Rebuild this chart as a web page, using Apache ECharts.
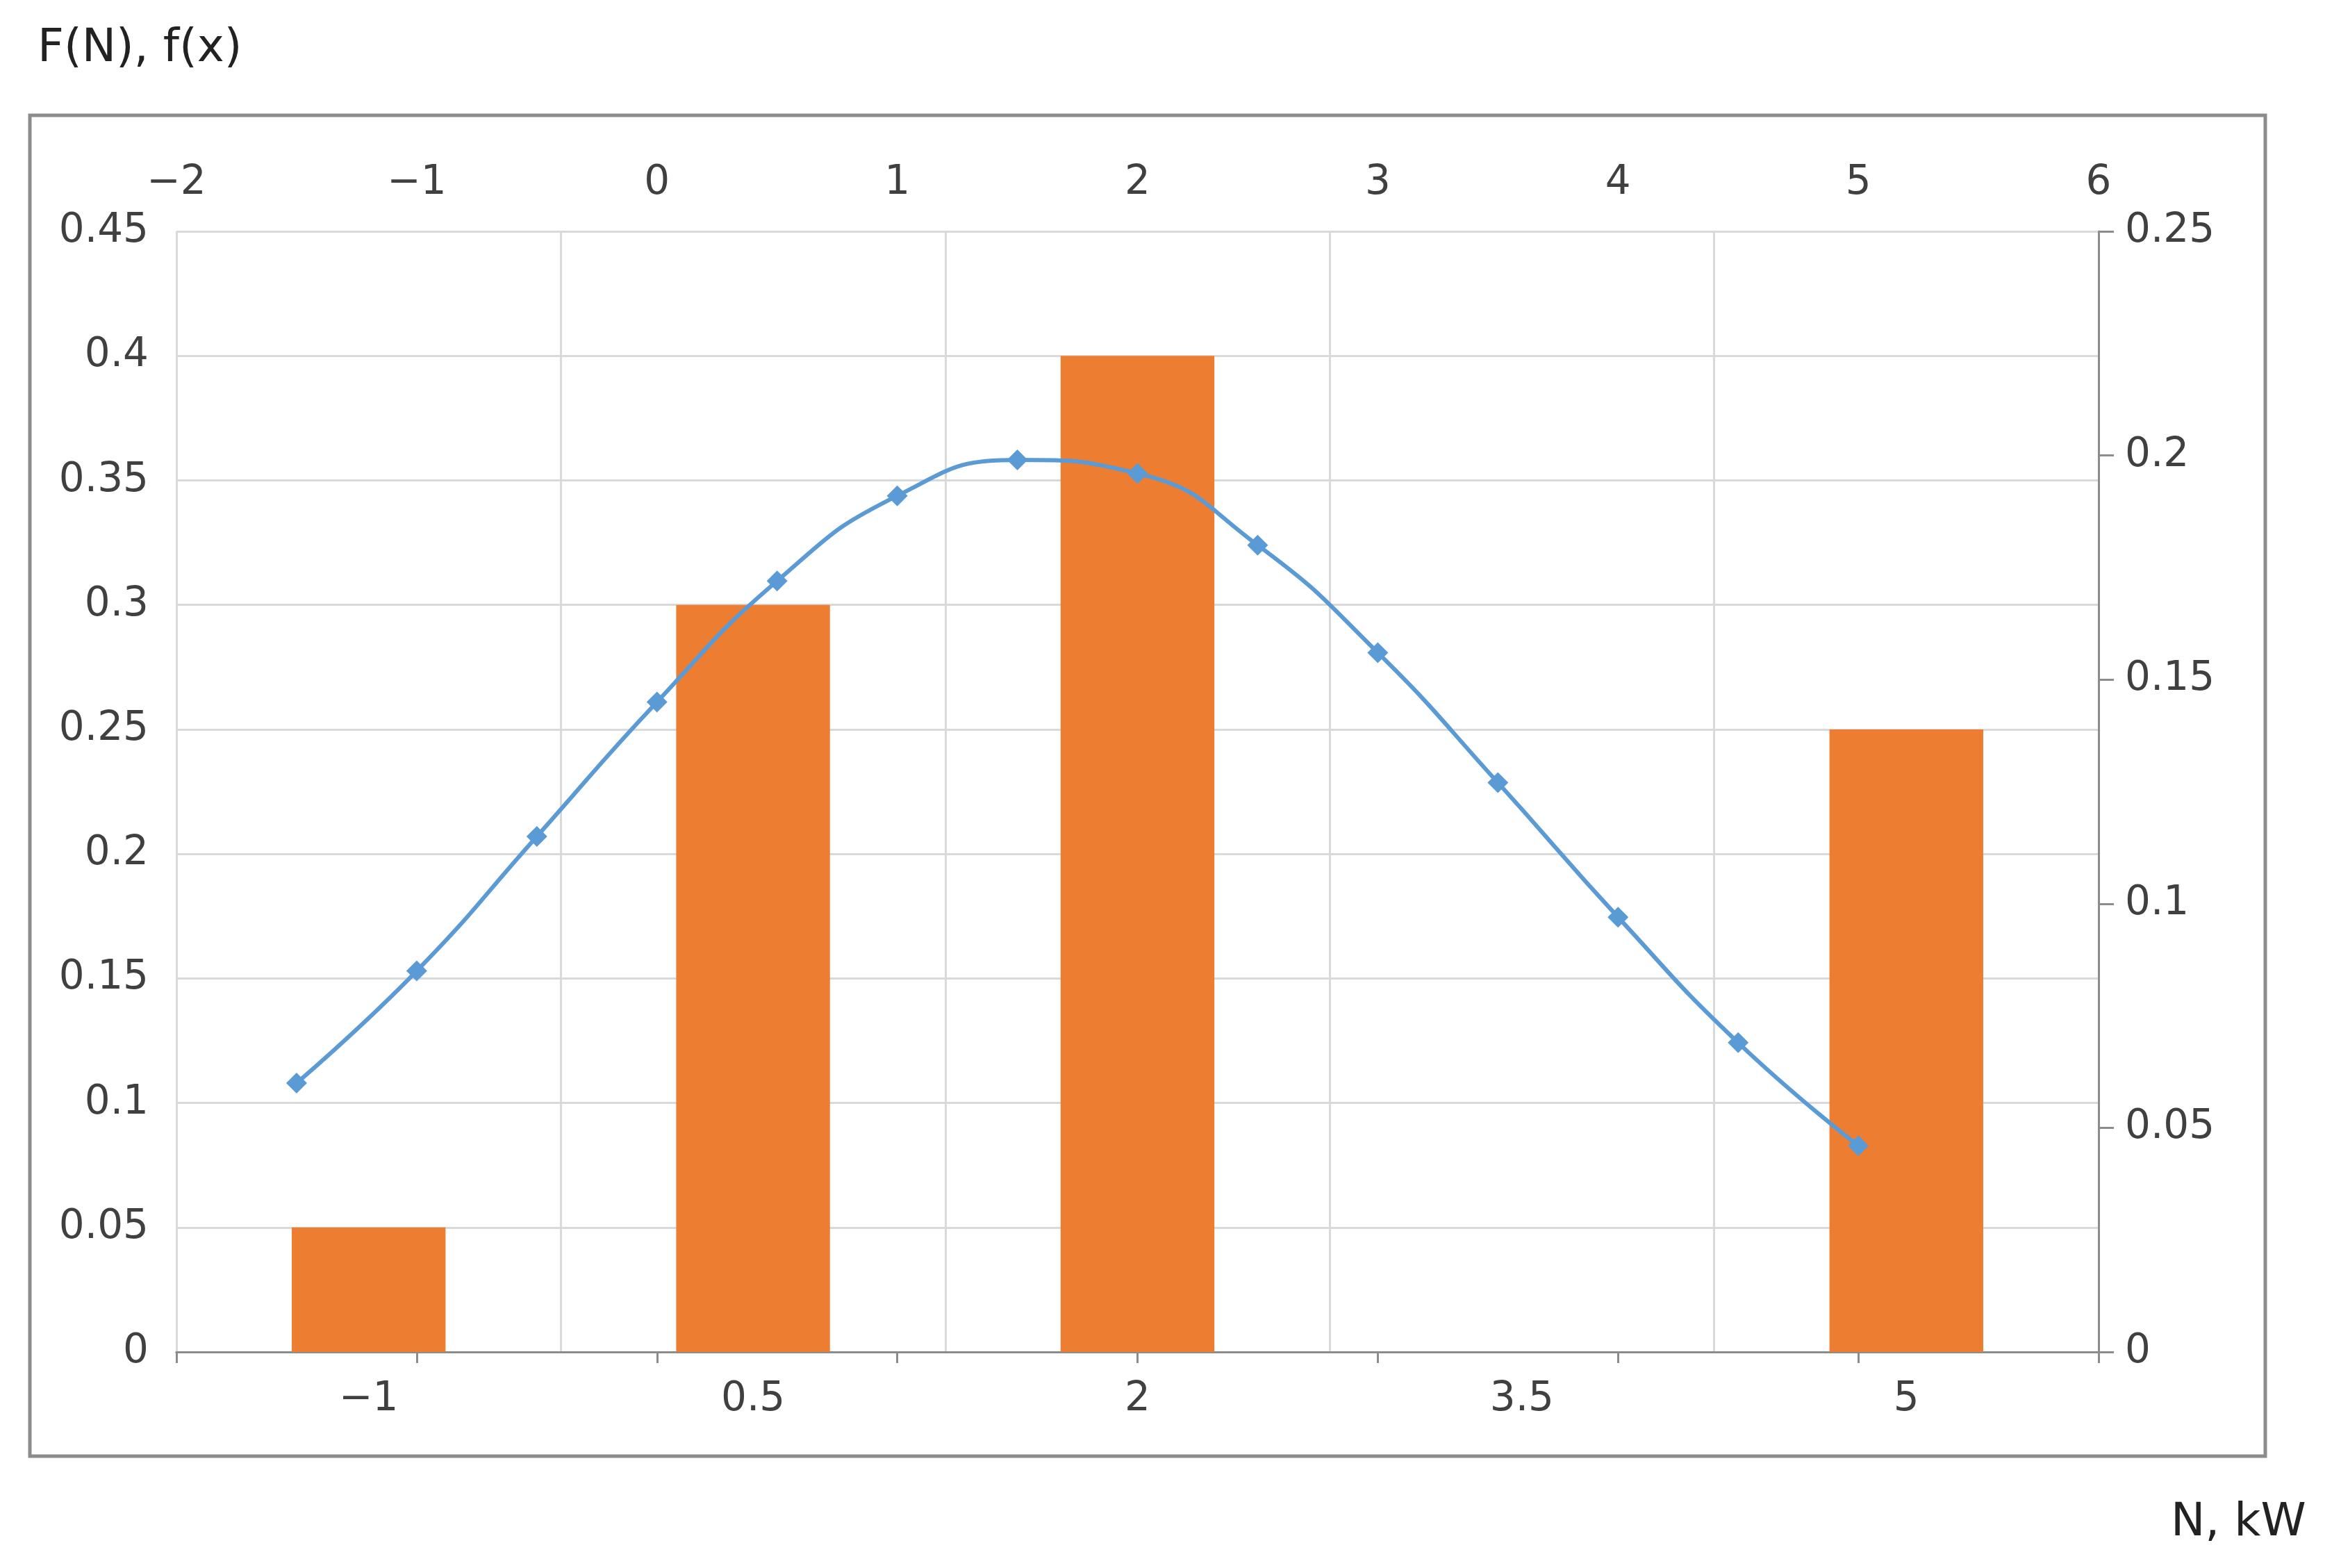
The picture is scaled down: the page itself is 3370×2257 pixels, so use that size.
<!DOCTYPE html>
<html>
<meta charset="utf-8">
<head>
<title>F(N), f(x)</title>
<script src="https://cdn.jsdelivr.net/npm/echarts@6/dist/echarts.min.js"></script>
<style>
html,body{margin:0;padding:0;background:#fff;}
#main{width:3370px;height:2257px;}
</style>
</head>
<body>
<div id="main"></div>
<script>
// bar data (bottom category axis, left value axis)
var barCats = ['-1', '0.5', '2', '3.5', '5'];
var barVals = [0.05, 0.3, 0.4, 0, 0.25];
// line data (top value axis, right value axis)
var lineX = [-1.5, -1, -0.5, 0, 0.5, 1, 1.5, 2, 2.5, 3, 3.5, 4, 4.5, 5];
var lineY = [0.060, 0.085, 0.115, 0.145, 0.172, 0.191, 0.199, 0.196, 0.180, 0.156, 0.127, 0.097, 0.069, 0.046];

var chart = echarts.init(document.getElementById('main'));
var lbl = {color: '#404040', fontSize: 58, fontFamily: 'DejaVu Sans'};
var axLine = {lineStyle: {color: '#8c8c8c', width: 3}};
var minus = function (v) { return String(v).replace('-', '\u2212'); };

chart.setOption({
  animation: false,
  textStyle: {fontFamily: 'DejaVu Sans'},
  graphic: [
    {type: 'rect', shape: {x: 43, y: 166, width: 3218, height: 1930},
     style: {fill: null, stroke: '#8c8c8c', lineWidth: 5}},
    {type: 'text', left: 54, top: 38, style: {text: 'F(N), f(x)', fontSize: 66, fill: '#222', fontFamily: 'DejaVu Sans'}},
    {type: 'text', left: 3125, top: 2160, style: {text: 'N, kW', fontSize: 66, fill: '#222', fontFamily: 'DejaVu Sans'}}
  ],
  grid: {left: 254, right: 349, top: 333, bottom: 311},
  xAxis: [
    {type: 'category', data: barCats, position: 'bottom',
     axisLine: axLine, axisTick: {show: false},
     axisLabel: Object.assign({margin: 40, formatter: minus}, lbl),
     splitLine: {show: true, lineStyle: {color: '#d9d9d9', width: 3}}},
    {type: 'value', position: 'top', min: -2, max: 6, interval: 1,
     axisLine: axLine, axisTick: {show: true, inside: true, length: 16, lineStyle: {color: '#8c8c8c', width: 3}},
     axisLabel: Object.assign({margin: 40, formatter: minus}, lbl),
     splitLine: {show: false}}
  ],
  yAxis: [
    {type: 'value', min: 0, max: 0.45, interval: 0.05, position: 'left',
     axisLine: {show: false}, axisTick: {show: false},
     axisLabel: Object.assign({margin: 40, formatter: function (v) { return +v.toFixed(2); }}, lbl),
     splitLine: {lineStyle: {color: '#d9d9d9', width: 3}}},
    {type: 'value', min: 0, max: 0.25, interval: 0.05, position: 'right',
     axisLine: {show: true, lineStyle: {color: '#8c8c8c', width: 3}},
     axisTick: {show: true, length: 22, lineStyle: {color: '#8c8c8c', width: 3}},
     axisLabel: Object.assign({margin: 38, formatter: function (v) { return +v.toFixed(2); }}, lbl),
     splitLine: {show: false}}
  ],
  series: [
    {type: 'bar', xAxisIndex: 0, yAxisIndex: 0, data: barVals, barWidth: '40%',
     itemStyle: {color: '#ED7D31'}},
    {type: 'line', xAxisIndex: 1, yAxisIndex: 1, smooth: true,
     data: lineX.map(function (x, i) { return [x, lineY[i]]; }),
     lineStyle: {color: '#5B9BD5', width: 6},
     symbol: 'diamond', symbolSize: 30,
     itemStyle: {color: '#5B9BD5'}}
  ]
});
</script>
</body>
</html>
